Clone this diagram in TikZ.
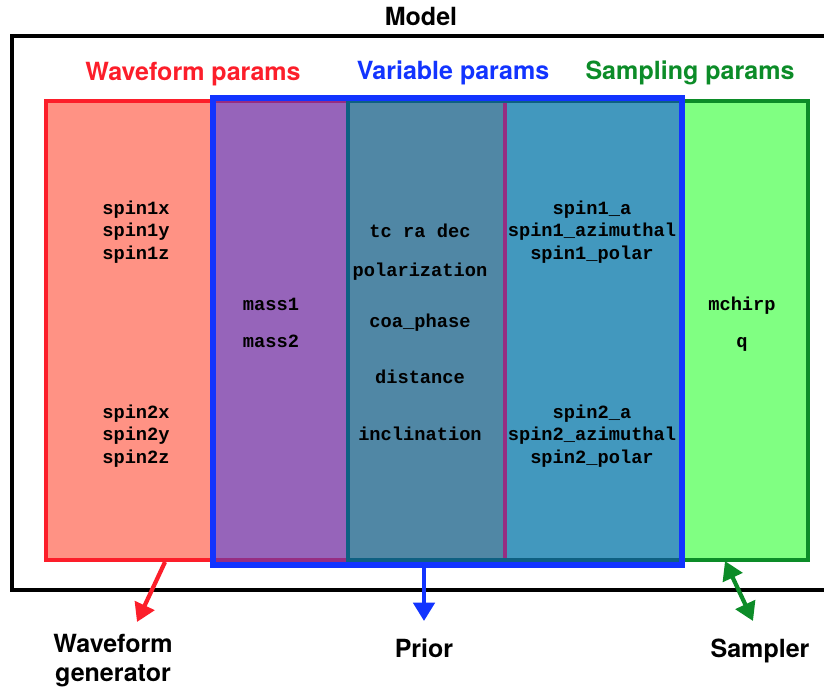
\documentclass[tikz,border=0pt]{standalone}
\usepackage{fontspec}
\setsansfont{TeX Gyre Heros}
\setmonofont{Liberation Mono}
\usetikzlibrary{arrows.meta}

\definecolor{wfred}{RGB}{252,30,42}
\definecolor{wffill}{RGB}{255,146,132}
\definecolor{varblue}{RGB}{18,52,255}
\definecolor{smpgreen}{RGB}{12,140,40}
\definecolor{smpfill}{RGB}{128,255,130}
\definecolor{wfvar}{RGB}{150,100,186}
\definecolor{allthree}{RGB}{80,135,165}
\definecolor{varsmp}{RGB}{66,152,190}
\definecolor{wfunder}{RGB}{150,45,130}
\definecolor{smpunder}{RGB}{14,96,130}

\begin{document}
\begin{tikzpicture}[x=0.025cm, y=-0.025cm,
    head/.style={font=\sffamily\bfseries\fontsize{17.8}{20.6}\selectfont, inner sep=0pt},
    pname/.style={font=\ttfamily\bfseries\fontsize{13.3}{16}\selectfont, align=center, inner sep=0pt},
    boxline/.style={line width=3.2pt},
    arrow/.style={line width=3pt, -{Triangle[width=15pt,length=13pt]}},
    twoarrow/.style={line width=3pt, {Triangle[width=15pt,length=13pt]}-{Triangle[width=15pt,length=13pt]}}
]

\useasboundingbox (0,0) rectangle (824,686);

% Model frame
\draw[line width=2.2pt] (824,36) -- (12,36) -- (12,590) -- (824,590);
\node[head, anchor=base] (model) at (421,25) {Model};

% Waveform and sampling boxes
\coordinate (wfNW) at (46,101);
\coordinate (wfSE) at (505,560);
\coordinate (smNW) at (348,101);
\coordinate (smSE) at (808,560);
\fill[wffill] (wfNW) rectangle (wfSE);
\fill[smpfill] (smNW) rectangle (smSE);
\draw[boxline, wfred] (wfNW) rectangle (wfSE);
\draw[boxline, smpgreen] (smNW) rectangle (smSE);

% Variable params overlay
\coordinate (vaNW) at (213,98);
\coordinate (vaSE) at (682,565);
\fill[wfvar] (213,101) rectangle (348,560);
\fill[allthree] (348,101) rectangle (505,560);
\fill[varsmp] (505,101) rectangle (682,560);
\draw[boxline, wfunder] (213,101) -- (348,101);
\draw[boxline, wfunder] (213,560) -- (348,560);
\draw[boxline, wfunder] (505,101) -- (505,560);
\draw[boxline, smpunder] (682,101) -- (348,101) -- (348,560) -- (682,560);
\draw[line width=3.6pt, varblue] (vaNW) rectangle (vaSE);

% Headings
\node[head, anchor=base, text=wfred] (wfhead) at (193,80) {Waveform params};
\node[head, anchor=base, text=varblue] (vahead) at (453,79) {Variable params};
\node[head, anchor=base, text=smpgreen] (smhead) at (690,79) {Sampling params};

% Waveform only
\node[pname] (spinone) at (136,232) {spin1x\\spin1y\\spin1z};
\node[pname] (spintwo) at (136,436) {spin2x\\spin2y\\spin2z};

% Waveform + variable
\node[pname, anchor=base] (massone) at (271,310) {mass1};
\node[pname, anchor=base] (masstwo) at (271,347) {mass2};

% All three
\node[pname, anchor=base] (sky) at (420,237) {tc ra dec};
\node[pname, anchor=base] (pol) at (420,276) {polarization};
\node[pname, anchor=base] (phase) at (420,327) {coa\_phase};
\node[pname, anchor=base] (dist) at (420,383) {distance};
\node[pname, anchor=base] (incl) at (420,440) {inclination};

% Variable + sampling
\node[pname] (spheone) at (592,232) {spin1\_a\\spin1\_azimuthal\\spin1\_polar};
\node[pname] (sphetwo) at (592,436) {spin2\_a\\spin2\_azimuthal\\spin2\_polar};

% Sampling only
\node[pname, anchor=base] (mchirp) at (742,310) {mchirp};
\node[pname, anchor=base] (q) at (742,347) {q};

% Outputs
\node[head, align=center] (wfgen) at (113,661) {Waveform\\generator};
\node[head, anchor=base] (prior) at (424,657) {Prior};
\node[head, anchor=base] (sampler) at (760,657) {Sampler};

% Arrows
\coordinate (wftail) at (165,562);
\coordinate (wftip) at (137,622);
\coordinate (vatail) at (424,567);
\coordinate (vatip) at (424,621);
\coordinate (smtop) at (725,561);
\coordinate (smbot) at (753,621);
\draw[arrow, wfred] (wftail) -- (wftip);
\draw[arrow, varblue] (vatail) -- (vatip);
\draw[twoarrow, smpgreen] (smtop) -- (smbot);

\end{tikzpicture}
\end{document}
